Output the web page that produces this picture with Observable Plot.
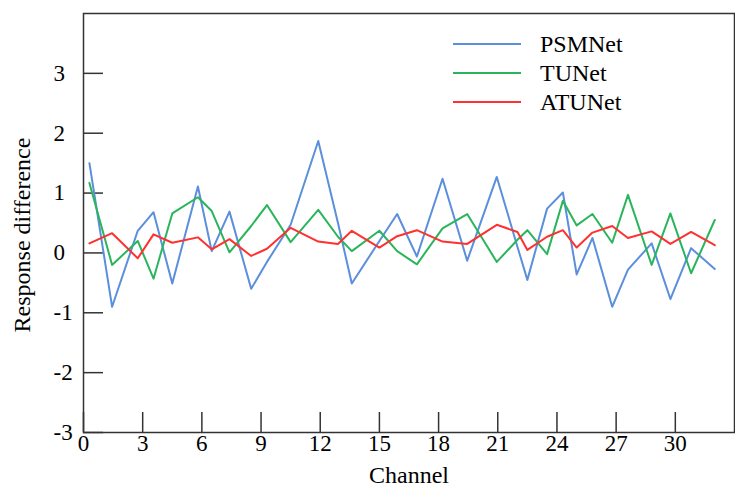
<!DOCTYPE html>
<html><head><meta charset="utf-8">
<script src="https://cdn.jsdelivr.net/npm/d3@7"></script>
<script src="https://cdn.jsdelivr.net/npm/@observablehq/plot@0.6"></script>
<style>
body{margin:0;background:#fff;}
#wrap{position:relative;width:735px;height:488px;font-family:"Liberation Serif","Times New Roman",serif;}
#legend{position:absolute;left:0;top:0;}
</style>
</head><body>
<div id="wrap"></div>
<script>
const channel = [0.3,1.45,2.75,3.55,4.5,5.8,6.5,7.4,8.5,9.3,10.5,11.9,12.9,13.6,15.0,15.9,16.9,18.2,19.45,20.95,22.0,22.5,23.5,24.3,25.0,25.8,26.8,27.6,28.8,29.75,30.8,32.0];
const psmnet = [1.50,-0.90,0.37,0.68,-0.51,1.11,0.03,0.69,-0.60,-0.15,0.47,1.87,0.50,-0.51,0.20,0.65,-0.06,1.24,-0.13,1.27,0.10,-0.45,0.74,1.01,-0.36,0.25,-0.90,-0.28,0.16,-0.77,0.08,-0.27];
const tunet = [1.17,-0.20,0.20,-0.43,0.66,0.93,0.70,0.01,0.45,0.80,0.18,0.72,0.27,0.03,0.37,0.03,-0.19,0.41,0.65,-0.15,0.22,0.38,-0.02,0.87,0.46,0.65,0.17,0.97,-0.20,0.66,-0.34,0.55];
const atunet = [0.16,0.33,-0.09,0.31,0.17,0.26,0.06,0.23,-0.05,0.07,0.42,0.19,0.15,0.37,0.09,0.28,0.38,0.19,0.15,0.47,0.35,0.05,0.27,0.38,0.09,0.34,0.45,0.25,0.36,0.15,0.35,0.13];
const seriesNames = ["PSMNet","TUNet","ATUNet"];
const seriesColors = ["#5b8fdb","#2ab55c","#ff3030"];
const xTicks = [0,3,6,9,12,15,18,21,24,27,30];
const yTicks = [-3,-2,-1,0,1,2,3];
const xLabel = "Channel";
const yLabel = "Response difference";

const allValues = [psmnet, tunet, atunet];
const data = [];
seriesNames.forEach((s, k) => channel.forEach((c, i) => data.push({series: s, channel: c, value: allValues[k][i]})));

const chart = Plot.plot({
  width: 735, height: 488,
  marginLeft: 83, marginTop: 13, marginBottom: 56, marginRight: 1,
  style: {fontFamily: '"Liberation Serif","Times New Roman",serif', fontSize: "23px", color: "#000", background: "#fff"},
  x: {domain: [0, 33]},
  y: {domain: [-3, 4]},
  color: {domain: seriesNames, range: seriesColors},
  marks: [
    Plot.axisX({anchor: "bottom", ticks: xTicks, tickSize: 20, dy: -20, tickFormat: () => "", stroke: "#333", strokeWidth: 1.5, label: null}),
    Plot.axisX({anchor: "bottom", ticks: xTicks, tickSize: 0, tickPadding: 2, tickFormat: d => String(d), label: null, fill: "#000", fontSize: 23}),
    Plot.axisY({anchor: "left", ticks: yTicks, tickSize: 20, dx: 20, tickFormat: () => "", stroke: "#333", strokeWidth: 1.5, label: null}),
    Plot.axisY({anchor: "left", ticks: yTicks, tickSize: 0, tickPadding: 0, dx: -30, textAnchor: "start", tickFormat: d => String(d), label: null, fill: "#000", fontSize: 23}),
    Plot.line(data, {x: "channel", y: "value", z: "series", stroke: "series", strokeWidth: 2}),
    Plot.frame({stroke: "#333", strokeWidth: 1.5}),
    Plot.text([xLabel], {frameAnchor: "bottom", dy: 50, fontSize: 24, fill: "#000"}),
    Plot.text([yLabel], {frameAnchor: "left", textAnchor: "middle", rotate: -90, dx: -61, dy: 12, fontSize: 24, fill: "#000"})
  ]
});
const wrap = document.getElementById("wrap");
wrap.appendChild(chart);

// legend overlay
const ns = "http://www.w3.org/2000/svg";
const lg = document.createElementNS(ns, "svg");
lg.setAttribute("id", "legend");
lg.setAttribute("width", 735); lg.setAttribute("height", 140);
seriesNames.forEach((s, i) => {
  const y = 44 + i * 29;
  const l = document.createElementNS(ns, "line");
  l.setAttribute("x1", 453); l.setAttribute("x2", 521);
  l.setAttribute("y1", y); l.setAttribute("y2", y);
  l.setAttribute("stroke", seriesColors[i]); l.setAttribute("stroke-width", 2);
  lg.appendChild(l);
  const t = document.createElementNS(ns, "text");
  t.setAttribute("x", 540); t.setAttribute("y", y);
  t.setAttribute("dy", "0.35em");
  t.setAttribute("font-size", 24);
  t.setAttribute("font-family", '"Liberation Serif","Times New Roman",serif');
  t.textContent = s;
  lg.appendChild(t);
});
wrap.appendChild(lg);
</script>
</body></html>
